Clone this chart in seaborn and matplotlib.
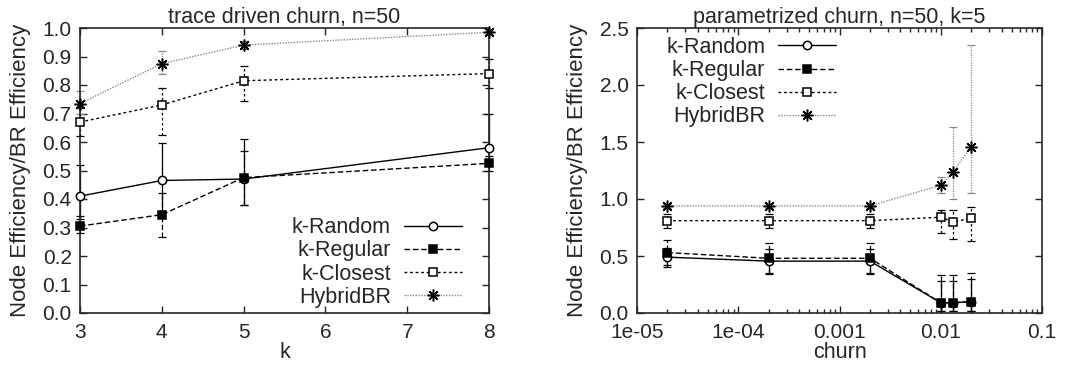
import numpy as np
import seaborn as sns
from matplotlib import pyplot as plt
from matplotlib.ticker import FixedLocator, FixedFormatter, LogLocator, NullFormatter

SERIES = ["k-Random", "k-Regular", "k-Closest", "HybridBR"]

# left panel: trace driven churn
k_values = [3, 4, 5, 8]
trace_mean = {
    "k-Random": [0.41, 0.465, 0.47, 0.58],
    "k-Regular": [0.305, 0.345, 0.475, 0.525],
    "k-Closest": [0.67, 0.73, 0.815, 0.84],
    "HybridBR": [0.735, 0.875, 0.94, 0.985],
}
trace_low = {
    "k-Random": [0.33, 0.335, 0.38, 0.52],
    "k-Regular": [0.28, 0.265, 0.38, 0.50],
    "k-Closest": [0.62, 0.625, 0.745, 0.79],
    "HybridBR": [0.70, 0.84, 0.925, 0.98],
}
trace_high = {
    "k-Random": [0.52, 0.595, 0.61, 0.70],
    "k-Regular": [0.34, 0.42, 0.57, 0.55],
    "k-Closest": [0.72, 0.79, 0.865, 0.89],
    "HybridBR": [0.78, 0.92, 0.955, 0.99],
}

# right panel: parametrized churn
churn_values = [2e-05, 2e-04, 2e-03, 0.01, 0.0133, 0.02]
param_mean = {
    "k-Random": [0.49, 0.455, 0.455, 0.09, 0.09, 0.10],
    "k-Regular": [0.53, 0.48, 0.48, 0.09, 0.09, 0.10],
    "k-Closest": [0.81, 0.81, 0.81, 0.84, 0.80, 0.83],
    "HybridBR": [0.94, 0.94, 0.94, 1.12, 1.24, 1.46],
}
param_low = {
    "k-Random": [0.40, 0.34, 0.34, 0.02, 0.02, 0.02],
    "k-Regular": [0.42, 0.35, 0.35, 0.02, 0.02, 0.02],
    "k-Closest": [0.75, 0.75, 0.75, 0.70, 0.65, 0.63],
    "HybridBR": [0.92, 0.92, 0.92, 1.05, 1.00, 1.05],
}
param_high = {
    "k-Random": [0.57, 0.56, 0.56, 0.28, 0.28, 0.30],
    "k-Regular": [0.64, 0.61, 0.61, 0.33, 0.33, 0.35],
    "k-Closest": [0.87, 0.87, 0.87, 0.90, 0.90, 0.93],
    "HybridBR": [0.96, 0.96, 0.96, 1.19, 1.63, 2.35],
}

STYLES = {
    "k-Random": dict(color="black", ls="-", marker="o", mfc="white", ms=6),
    "k-Regular": dict(color="black", ls=(0, (4, 2)), marker="s", mfc="black", ms=6),
    "k-Closest": dict(color="black", ls=(0, (2, 2)), marker="s", mfc="white", ms=6),
    "HybridBR": dict(color="#888888", ls=(0, (1, 1)), marker=(8, 2, 0), mfc="black", ms=8.5),
}


def draw_panel(ax, x, mean, low, high):
    for name in SERIES:
        st = STYLES[name]
        m = np.array(mean[name])
        err = np.vstack([m - np.array(low[name]), np.array(high[name]) - m])
        eb = ax.errorbar(x, m, yerr=err, fmt="none", ecolor=st["color"], elinewidth=0.9,
                         capsize=3, capthick=0.9, clip_on=False)
        eb[2][0].set_linestyle(st["ls"])
        sns.lineplot(x=x, y=m, ax=ax, color=st["color"], linestyle=st["ls"], lw=1.0,
                     marker=st["marker"], markersize=st["ms"], markerfacecolor=st["mfc"],
                     markeredgecolor="black", markeredgewidth=1.1, label=name, legend=False,
                     clip_on=False, zorder=3)
    ax.tick_params(direction="in", which="both", top=True, right=True, labelsize=15, width=1.0)
    ax.tick_params(axis="y", pad=6)
    ax.tick_params(axis="x", pad=7)
    ax.tick_params(which="major", length=5)
    ax.tick_params(which="minor", length=3)
    for sp in ax.spines.values():
        sp.set_linewidth(1.2)
    ax.set_ylabel("Node Efficiency/BR Efficiency", fontsize=16, labelpad=8)


sns.set_theme(style="ticks")
plt.rcParams["font.family"] = ["Liberation Sans", "DejaVu Sans"]

fig = plt.figure(figsize=(10.84, 3.67), dpi=100)
ax1 = fig.add_axes([80 / 1084, 1 - 313 / 367, 409 / 1084, 285 / 367])
ax2 = fig.add_axes([637 / 1084, 1 - 313 / 367, 405 / 1084, 285 / 367])

legend_kw = dict(markerfirst=False, frameon=False, fontsize=15.5, handlelength=2.7,
                 handletextpad=0.6, labelspacing=0.1)

draw_panel(ax1, k_values, trace_mean, trace_low, trace_high)
ax1.set_xlim(3, 8)
ax1.set_ylim(0, 1.0)
ax1.set_yticks(np.round(np.arange(0, 1.01, 0.1), 1))
ax1.yaxis.set_major_formatter(FixedFormatter([f"{v:.1f}" for v in np.arange(0, 1.01, 0.1)]))
ax1.set_xticks([3, 4, 5, 6, 7, 8])
ax1.set_xlabel("k", fontsize=15.5, labelpad=0)
ax1.set_title("trace driven churn, n=50", fontsize=15.5, pad=3)
ax1.legend(loc="lower right", bbox_to_anchor=(0.976, -0.042), borderaxespad=0.4, **legend_kw)

draw_panel(ax2, churn_values, param_mean, param_low, param_high)
ax2.set_xscale("log")
ax2.set_xlim(1e-05, 0.1)
ax2.set_ylim(0, 2.5)
ax2.set_yticks([0, 0.5, 1.0, 1.5, 2.0, 2.5])
ax2.yaxis.set_major_formatter(FixedFormatter(["0.0", "0.5", "1.0", "1.5", "2.0", "2.5"]))
ax2.xaxis.set_major_locator(FixedLocator([1e-05, 1e-04, 1e-03, 1e-02, 1e-01]))
ax2.xaxis.set_major_formatter(FixedFormatter(["1e-05", "1e-04", "0.001", "0.01", "0.1"]))
ax2.xaxis.set_minor_locator(LogLocator(base=10, subs=np.arange(2, 10), numticks=20))
ax2.xaxis.set_minor_formatter(NullFormatter())
ax2.set_xlabel("churn", fontsize=15.5, labelpad=0)
ax2.set_title("parametrized churn, n=50, k=5", fontsize=15.5, pad=3)
ax2.legend(loc="upper left", bbox_to_anchor=(0.04, 1.014), borderaxespad=0.2, **legend_kw)

fig.savefig("out.png", dpi=100)
